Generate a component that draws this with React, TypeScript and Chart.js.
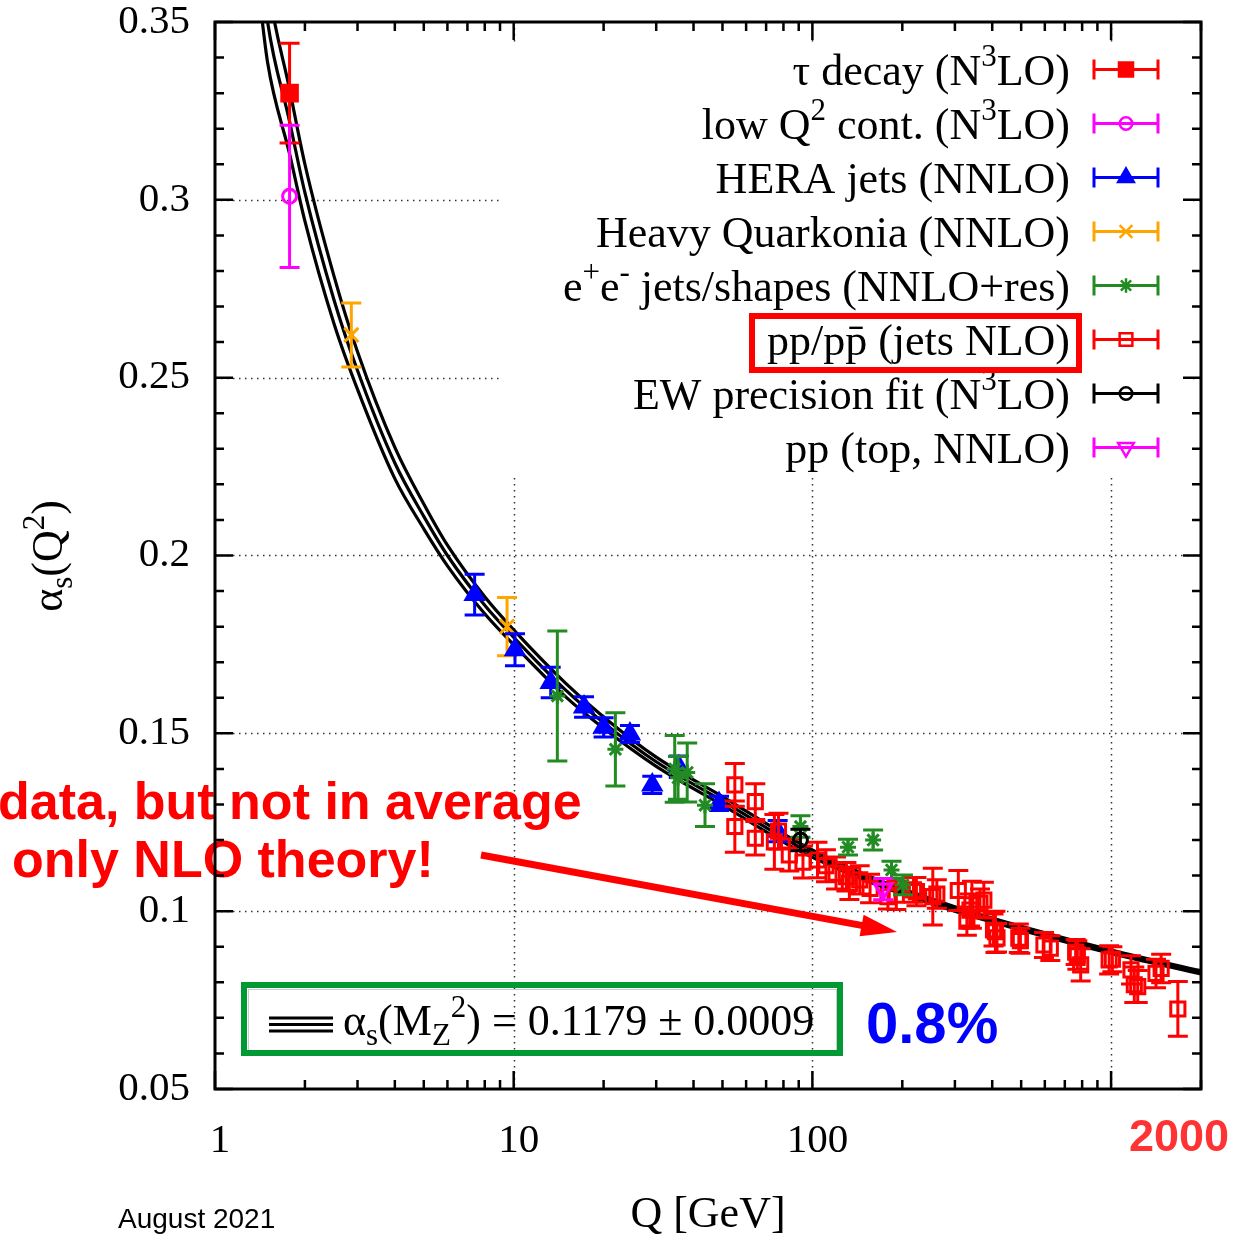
import React, { useEffect, useRef } from "react";
import { Chart, registerables } from "chart.js";
import { drawPoint } from "chart.js/helpers";

Chart.register(...registerables);

const SERIF = "'Liberation Serif', 'Times New Roman', serif";
const SANS = "'Liberation Sans', Arial, sans-serif";

// Axis ranges, labelled ticks and dotted grid positions
const X_MIN = 1;
const X_MAX = 2000;
const Y_MIN = 0.05;
const Y_MAX = 0.35;
const xTickLabels = [1, 10, 100];
const gridX = [10, 100, 1000];
const gridY = [0.1, 0.15, 0.2, 0.25, 0.3];

// World-average running coupling: Q [GeV], central value, half-width of the band
const curveQ = [1.4, 1.5, 1.777, 2, 2.5, 3, 4, 5, 6, 8, 10, 15, 20, 30, 50, 91.19, 150, 300, 500, 1000, 2000];
const curveMid = [0.372, 0.35, 0.322, 0.302, 0.272, 0.252, 0.226, 0.211, 0.2, 0.186, 0.177, 0.162, 0.153, 0.142, 0.131, 0.1179, 0.1095, 0.1006, 0.0952, 0.0886, 0.0828];
const curveHalf = [0.013, 0.0114, 0.0091, 0.008, 0.0067, 0.0053, 0.0044, 0.0035, 0.0029, 0.0024, 0.0021, 0.0019, 0.0016, 0.0013, 0.0012, 0.0011, 0.00079, 0.00065, 0.00054, 0.00048, 0.00045];

// τ decay (N3LO)
const tauQ = [1.777];
const tauA = [0.33];
const tauE = [0.014];

// low Q2 continuum (N3LO)
const lowQ2Q = [1.777];
const lowQ2A = [0.301];
const lowQ2E = [0.02];

// HERA jets (NNLO)
const heraQ = [7.4, 10.1, 13.3, 17.2, 20.0, 24.5, 29.1, 35.7, 48.7, 76.5];
const heraA = [0.189, 0.1735, 0.1643, 0.1574, 0.1517, 0.1498, 0.1355, 0.1406, 0.1303, 0.1225];
const heraE = [0.0057, 0.0045, 0.0043, 0.0029, 0.0027, 0.0024, 0.0024, 0.003, 0.002, 0.003];

// Heavy quarkonia (NNLO)
const quarkQ = [2.86, 9.5];
const quarkA = [0.262, 0.18];
const quarkE = [0.009, 0.0082];

// e+e- jets and event shapes (NNLO+res)
const eeQ = [14.0, 21.9, 34.6, 35.5, 38.1, 43.7, 91.2, 131.6, 159.7, 184, 201];
const eeA = [0.1605, 0.1455, 0.14, 0.1375, 0.139, 0.1298, 0.1238, 0.118, 0.12, 0.1116, 0.1074];
const eeE = [0.0183, 0.0103, 0.0094, 0.006, 0.0083, 0.006, 0.003, 0.0022, 0.0028, 0.0024, 0.0028];

// pp / ppbar jets (NLO)
const ppJetQ = [55, 55, 64.4, 64.4, 74.6, 77, 83.7, 93, 104, 111, 120, 130, 133, 144, 156, 179, 191, 218, 223, 253, 261, 308, 329, 337, 342, 364, 375, 404, 410, 415, 491, 497, 596, 626, 761, 771, 791, 985, 1010, 1166, 1196, 1228, 1414, 1471, 1673];
const ppJetA = [0.1355, 0.1238, 0.1308, 0.1205, 0.1195, 0.1225, 0.1158, 0.1138, 0.1144, 0.1128, 0.1107, 0.1097, 0.1078, 0.1088, 0.1064, 0.1041, 0.1045, 0.106, 0.1055, 0.1041, 0.1048, 0.1058, 0.0972, 0.1003, 0.1018, 0.1022, 0.1031, 0.0947, 0.0942, 0.0925, 0.0924, 0.0917, 0.0905, 0.0896, 0.0885, 0.0877, 0.0849, 0.0863, 0.0865, 0.0835, 0.0793, 0.0788, 0.0825, 0.0839, 0.0725];
const ppJetE = [0.006, 0.0072, 0.005, 0.0047, 0.0077, 0.005, 0.0045, 0.0045, 0.005, 0.0045, 0.0045, 0.004, 0.0045, 0.004, 0.004, 0.0035, 0.004, 0.0035, 0.004, 0.008, 0.004, 0.0056, 0.004, 0.0045, 0.0066, 0.004, 0.005, 0.0045, 0.0058, 0.004, 0.004, 0.0035, 0.0035, 0.0035, 0.0035, 0.004, 0.0045, 0.004, 0.0035, 0.004, 0.005, 0.0045, 0.004, 0.004, 0.0077];

// EW precision fit (N3LO)
const ewQ = [91.19];
const ewA = [0.12];
const ewE = [0.003];

// pp top-quark pairs (NNLO)
const topQ = [172.5];
const topA = [0.1062];
const topE = [0.003];

// Series in key order; `layer` 0 is drawn on top
const series = [
  { label: "τ decay (N^{3}LO)", q: tauQ, a: tauA, e: tauE, color: "#ff0000", style: "rect", radius: 11, filled: true, rotation: 0, layer: 7 },
  { label: "low Q^{2} cont. (N^{3}LO)", q: lowQ2Q, a: lowQ2A, e: lowQ2E, color: "#ff00ff", style: "circle", radius: 7, filled: false, rotation: 0, layer: 6 },
  { label: "HERA jets (NNLO)", q: heraQ, a: heraA, e: heraE, color: "#0000ff", style: "triangle", radius: 10, filled: true, rotation: 0, layer: 4 },
  { label: "Heavy Quarkonia (NNLO)", q: quarkQ, a: quarkA, e: quarkE, color: "#ffa500", style: "crossRot", radius: 10, filled: false, rotation: 0, layer: 5 },
  { label: "e^{+}e^{-} jets/shapes (NNLO+res)", q: eeQ, a: eeA, e: eeE, color: "#228b22", style: "star", radius: 8, filled: false, rotation: 0, layer: 2 },
  { label: "pp/pp\u0304 (jets NLO)", q: ppJetQ, a: ppJetA, e: ppJetE, color: "#ff0000", style: "rect", radius: 10, filled: false, rotation: 0, layer: 3 },
  { label: "EW precision fit (N^{3}LO)", q: ewQ, a: ewA, e: ewE, color: "#000000", style: "circle", radius: 7, filled: false, rotation: 0, layer: 0 },
  { label: "pp (top, NNLO)", q: topQ, a: topA, e: topE, color: "#ff00ff", style: "triangle", radius: 10, filled: false, rotation: 180, layer: 1 },
];

const averageLabel = "α_{s}(M_{Z}^{2}) = 0.1179 ± 0.0009";

type Seg = { t: string; k: number };

function parseRich(s: string): Seg[] {
  const out: Seg[] = [];
  const re = /([\^_])\{([^}]*)\}/g;
  let last = 0;
  let m: RegExpExecArray | null;
  while ((m = re.exec(s))) {
    if (m.index > last) out.push({ t: s.slice(last, m.index), k: 0 });
    out.push({ t: m[2], k: m[1] === "^" ? 1 : -1 });
    last = m.index + m[0].length;
  }
  if (last < s.length) out.push({ t: s.slice(last), k: 0 });
  return out;
}

function drawRich(
  ctx: CanvasRenderingContext2D,
  s: string,
  x: number,
  y: number,
  size: number,
  family: string,
  align: "left" | "right" | "center",
  color = "#000"
) {
  const segs = parseRich(s);
  const fontFor = (k: number) => `${k ? Math.round(size * 0.7) : size}px ${family}`;
  let w = 0;
  for (const seg of segs) {
    ctx.font = fontFor(seg.k);
    w += ctx.measureText(seg.t).width;
  }
  let cx = align === "left" ? x : align === "right" ? x - w : x - w / 2;
  ctx.textAlign = "left";
  ctx.textBaseline = "alphabetic";
  ctx.fillStyle = color;
  for (const seg of segs) {
    ctx.font = fontFor(seg.k);
    const dy = seg.k === 1 ? -size * 0.42 : seg.k === -1 ? size * 0.22 : 0;
    ctx.fillText(seg.t, cx, y + dy);
    cx += ctx.measureText(seg.t).width;
  }
}

function marker(ctx: CanvasRenderingContext2D, s: any, x: number, y: number) {
  ctx.save();
  ctx.strokeStyle = s.color;
  ctx.fillStyle = s.filled ? s.color : "rgba(0,0,0,0)";
  drawPoint(ctx, { pointStyle: s.style, radius: s.radius, rotation: s.rotation, borderWidth: 3 } as any, x, y);
  ctx.restore();
}

const CAP = 10;

const decorPlugin = {
  id: "decor",
  beforeDatasetsDraw(chart: any) {
    const { ctx, chartArea: a, scales } = chart;
    const xs = scales.x;
    const ys = scales.y;
    ctx.save();
    ctx.strokeStyle = "#333";
    ctx.lineWidth = 1.5;
    ctx.setLineDash([1.5, 4.5]);
    ctx.beginPath();
    for (const v of gridY) {
      const py = Math.round(ys.getPixelForValue(v)) + 0.5;
      ctx.moveTo(a.left, py);
      ctx.lineTo(a.right, py);
    }
    for (const v of gridX) {
      const px = Math.round(xs.getPixelForValue(v)) + 0.5;
      ctx.moveTo(px, a.top);
      ctx.lineTo(px, a.bottom);
    }
    ctx.stroke();
    ctx.setLineDash([]);
    // key background
    ctx.fillStyle = "#ffffff";
    ctx.fillRect(500, 42, 690, 432);
    ctx.restore();
  },
  afterDatasetDraw(chart: any, args: any) {
    const ds = chart.data.datasets[args.index];
    if (!ds.errorBars) return;
    const { ctx } = chart;
    const xs = chart.scales.x;
    const ys = chart.scales.y;
    ctx.save();
    ctx.strokeStyle = ds.borderColor;
    ctx.lineWidth = 3;
    ctx.beginPath();
    for (const p of ds.data) {
      const px = xs.getPixelForValue(p.x);
      const y1 = ys.getPixelForValue(p.yMin);
      const y2 = ys.getPixelForValue(p.yMax);
      ctx.moveTo(px, y1);
      ctx.lineTo(px, y2);
      ctx.moveTo(px - CAP, y1);
      ctx.lineTo(px + CAP, y1);
      ctx.moveTo(px - CAP, y2);
      ctx.lineTo(px + CAP, y2);
    }
    ctx.stroke();
    ctx.restore();
  },
  afterDatasetsDraw(chart: any) {
    const { ctx, chartArea: a, scales } = chart;
    const xs = scales.x;
    const ys = scales.y;
    ctx.save();

    // comment on the hadron-collider jet data
    ctx.fillStyle = "#ff0000";
    ctx.font = `bold 52px ${SANS}`;
    ctx.textAlign = "left";
    ctx.textBaseline = "alphabetic";
    ctx.fillText("data, but not in average", -2, 819);
    ctx.fillText("only NLO theory!", 12, 877);

    // arrow pointing at the jet data
    const x0 = 481, y0 = 855, tx = 897, ty = 932;
    const dx = tx - x0, dy = ty - y0;
    const len = Math.hypot(dx, dy);
    const ux = dx / len, uy = dy / len;
    const bx = tx - 36 * ux, by = ty - 36 * uy;
    ctx.strokeStyle = "#ff0000";
    ctx.lineWidth = 7;
    ctx.beginPath();
    ctx.moveTo(x0, y0);
    ctx.lineTo(bx + 4 * ux, by + 4 * uy);
    ctx.stroke();
    ctx.beginPath();
    ctx.moveTo(tx, ty);
    ctx.lineTo(bx - 11 * uy, by + 11 * ux);
    ctx.lineTo(bx + 11 * uy, by - 11 * ux);
    ctx.closePath();
    ctx.fill();

    // frame
    ctx.strokeStyle = "#000";
    ctx.lineWidth = 3;
    ctx.strokeRect(a.left, a.top, a.right - a.left, a.bottom - a.top);

    // inward tick marks on all four sides
    ctx.lineWidth = 2.5;
    ctx.beginPath();
    for (let d = 1; d <= 1000; d *= 10) {
      for (let m = 1; m <= 9; m++) {
        const v = d * m;
        if (v > X_MAX) break;
        const px = xs.getPixelForValue(v);
        const L = m === 1 ? 18 : 9;
        ctx.moveTo(px, a.bottom);
        ctx.lineTo(px, a.bottom - L);
        ctx.moveTo(px, a.top);
        ctx.lineTo(px, a.top + L);
      }
    }
    for (let k = 5; k <= 35; k++) {
      const py = ys.getPixelForValue(k / 100);
      const L = k % 5 === 0 ? 18 : 9;
      ctx.moveTo(a.left, py);
      ctx.lineTo(a.left + L, py);
      ctx.moveTo(a.right, py);
      ctx.lineTo(a.right - L, py);
    }
    ctx.stroke();

    // key
    const rowY0 = 69.5;
    const rowDY = 54;
    series.forEach((s, i) => {
      const cy = rowY0 + i * rowDY;
      drawRich(ctx, s.label, 1070, cy + 15, 44, SERIF, "right");
      ctx.save();
      ctx.strokeStyle = s.color;
      ctx.lineWidth = 3;
      ctx.beginPath();
      ctx.moveTo(1094, cy);
      ctx.lineTo(1158, cy);
      ctx.moveTo(1094, cy - 10);
      ctx.lineTo(1094, cy + 10);
      ctx.moveTo(1158, cy - 10);
      ctx.lineTo(1158, cy + 10);
      ctx.stroke();
      ctx.restore();
      marker(ctx, { ...s, radius: s.radius * 0.9 }, 1126, cy);
    });
    ctx.strokeStyle = "#ff0000";
    ctx.lineWidth = 6;
    ctx.strokeRect(752, 316, 327, 54);

    // world average box
    ctx.strokeStyle = "#cccccc";
    ctx.lineWidth = 1;
    ctx.strokeRect(248.5, 989.5, 588, 61);
    ctx.strokeStyle = "rgb(0,153,51)";
    ctx.lineWidth = 6;
    ctx.strokeRect(244, 985, 596, 68);
    ctx.strokeStyle = "#000";
    ctx.lineWidth = 3;
    ctx.beginPath();
    for (const yy of [1018, 1024.5, 1031]) {
      ctx.moveTo(269, yy);
      ctx.lineTo(333, yy);
    }
    ctx.stroke();
    drawRich(ctx, averageLabel, 343, 1035, 44, SERIF, "left");

    ctx.fillStyle = "#0000ff";
    ctx.font = `bold 58px ${SANS}`;
    ctx.textAlign = "left";
    ctx.fillText("0.8%", 866, 1043);

    ctx.fillStyle = "rgb(255,51,51)";
    ctx.font = `bold 45px ${SANS}`;
    ctx.fillText("2000", 1129, 1151);

    // axis titles and date
    drawRich(ctx, "Q [GeV]", 708, 1227, 44, SERIF, "center");
    ctx.save();
    ctx.translate(62, 556);
    ctx.rotate(-Math.PI / 2);
    drawRich(ctx, "α_{s}(Q^{2})", 0, 0, 44, SERIF, "center");
    ctx.restore();
    ctx.fillStyle = "#000";
    ctx.font = `28px ${SANS}`;
    ctx.textAlign = "left";
    ctx.fillText("August 2021", 118, 1228);

    ctx.restore();
  },
};

export default function App() {
  const ref = useRef<HTMLCanvasElement | null>(null);

  useEffect(() => {
    const canvas = ref.current;
    if (!canvas) return;

    const curveUp = curveMid.map((v, i) => v + curveHalf[i]);
    const curveLo = curveMid.map((v, i) => v - curveHalf[i]);
    const bandSets = [curveLo, curveMid, curveUp].map((vals) => ({
      label: "",
      data: curveQ.map((q, i) => ({ x: q, y: vals[i] })),
      showLine: true,
      borderColor: "#000",
      borderWidth: 3.2,
      pointRadius: 0,
      cubicInterpolationMode: "monotone",
      fill: false,
      order: 20,
    }));

    const pointSets = series.map((s) => ({
      label: s.label,
      data: s.q.map((q, i) => ({ x: q, y: s.a[i], yMin: s.a[i] - s.e[i], yMax: s.a[i] + s.e[i] })),
      showLine: false,
      borderColor: s.color,
      backgroundColor: s.filled ? s.color : "rgba(0,0,0,0)",
      pointStyle: s.style,
      pointRadius: s.radius,
      pointRotation: s.rotation,
      pointBorderWidth: 3,
      errorBars: true,
      order: s.layer,
    }));

    const chart = new Chart(canvas, {
      type: "scatter",
      data: { datasets: [...pointSets, ...bandSets] as any },
      options: {
        responsive: false,
        maintainAspectRatio: false,
        devicePixelRatio: 1,
        animation: false,
        events: [],
        layout: { padding: { left: 0, right: 36, top: 22, bottom: 0 } },
        plugins: { legend: { display: false }, tooltip: { enabled: false } },
        scales: {
          x: {
            type: "logarithmic",
            min: X_MIN,
            max: X_MAX,
            grid: { display: false, drawTicks: false },
            border: { display: false },
            afterFit: (s: any) => {
              s.height = 149;
              s.paddingLeft = 0;
              s.paddingRight = 0;
            },
            ticks: {
              autoSkip: false,
              maxRotation: 0,
              padding: 32,
              labelOffset: 5,
              color: "#000",
              font: { family: SERIF, size: 41, lineHeight: 1 },
              callback: (v: any) => {
                const n = Number(v);
                return xTickLabels.some((t) => Math.abs(t - n) < 1e-6) ? String(Math.round(n)) : "";
              },
            },
          },
          y: {
            type: "linear",
            min: Y_MIN,
            max: Y_MAX,
            grid: { display: false, drawTicks: false },
            border: { display: false },
            afterFit: (s: any) => {
              s.width = 215;
              s.paddingTop = 0;
              s.paddingBottom = 0;
            },
            ticks: {
              stepSize: 0.05,
              padding: 25,
              color: "#000",
              font: { family: SERIF, size: 41, lineHeight: 1 },
              callback: (v: any) => String(+Number(v).toFixed(2)),
            },
          },
        },
      },
      plugins: [decorPlugin],
    });

    return () => chart.destroy();
  }, []);

  return (
    <div style={{ position: "absolute", left: 0, top: 0, width: 1237, height: 1238, background: "#fff" }}>
      <canvas ref={ref} width={1237} height={1238} style={{ display: "block" }} />
    </div>
  );
}
